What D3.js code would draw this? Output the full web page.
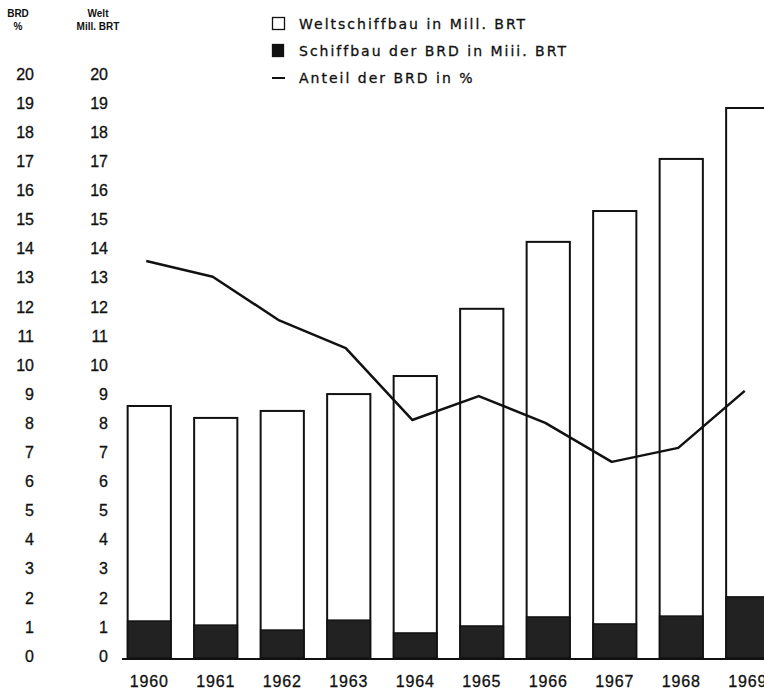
<!DOCTYPE html>
<html>
<head>
<meta charset="utf-8">
<script src="https://cdn.jsdelivr.net/npm/d3@7.9.0/dist/d3.min.js"></script>
<style>
  html, body { margin: 0; padding: 0; background: #fff; }
  svg { display: block; font-family: "Liberation Sans", Arial, sans-serif; }
</style>
</head>
<body>
<svg id="chart" width="764" height="690"></svg>
<script>
// Werte
const years = ["1960", "1961", "1962", "1963", "1964", "1965", "1966", "1967", "1968", "1969"];
const weltBRT = [8.66, 8.25, 8.49, 9.07, 9.69, 12.0, 14.3, 15.36, 17.15, 18.9];
const brdBRT = [1.27, 1.13, 0.96, 1.3, 0.86, 1.1, 1.41, 1.17, 1.44, 2.1];
const anteilBRD = [13.64, 13.1, 11.6, 10.65, 8.18, 9.0, 8.08, 6.74, 7.22, 9.18];
const tickValues = d3.range(0, 21);
const legendLabels = ["Weltschiffbau in Mill. BRT", "Schiffbau der BRD in Miii. BRT", "Anteil der BRD in %"];

const svg = d3.select("#chart");

const x = d3.scaleBand()
  .domain(years)
  .range([116, 781])
  .paddingInner(0.35)
  .paddingOuter(0.175);

const y = d3.scaleLinear().domain([0, 20]).range([658, 76]);

// 1. Achsenbeschriftung links (zwei Spalten)
const head = svg.append("g").attr("font-size", 10).attr("font-weight", "bold").attr("fill", "#111").attr("text-anchor", "middle");
head.append("text").attr("x", 18).attr("y", 17).text("BRD");
head.append("text").attr("x", 18).attr("y", 30).text("%");
head.append("text").attr("x", 98).attr("y", 17).text("Welt");
head.append("text").attr("x", 98).attr("y", 30).text("Mill. BRT");

[34, 108].forEach(xp => {
  svg.append("g")
    .attr("font-size", 16)
    .attr("fill", "#111")
    .attr("stroke", "#111")
    .attr("stroke-width", 0.3)
    .attr("text-anchor", "end")
    .selectAll("text")
    .data(tickValues)
    .join("text")
    .attr("x", xp)
    .attr("y", d => y(d) - 2)
    .attr("dy", "0.36em")
    .text(d => d);
});

// 2. Balken Weltschiffbau
svg.append("g")
  .selectAll("rect")
  .data(years)
  .join("rect")
  .attr("x", d => x(d))
  .attr("y", (d, i) => y(weltBRT[i]))
  .attr("width", x.bandwidth())
  .attr("height", (d, i) => y(0) - y(weltBRT[i]))
  .attr("fill", "#fff")
  .attr("stroke", "#111")
  .attr("stroke-width", 2);

// 3. Balken BRD
svg.append("g")
  .selectAll("rect")
  .data(years)
  .join("rect")
  .attr("x", d => x(d))
  .attr("y", (d, i) => y(brdBRT[i]))
  .attr("width", x.bandwidth())
  .attr("height", (d, i) => y(0) - y(brdBRT[i]))
  .attr("fill", "#222")
  .attr("stroke", "#111")
  .attr("stroke-width", 1.5);

// Grundlinie
svg.append("line")
  .attr("x1", 122).attr("x2", 764)
  .attr("y1", y(0) + 1).attr("y2", y(0) + 1)
  .attr("stroke", "#111").attr("stroke-width", 2);

// 4. Linie Anteil der BRD
const line = d3.line()
  .x((d, i) => x(years[i]) + x.bandwidth() / 2 - 3)
  .y(d => y(d));

svg.append("path")
  .datum(anteilBRD)
  .attr("d", line)
  .attr("fill", "none")
  .attr("stroke", "#111")
  .attr("stroke-width", 2.5)
  .attr("stroke-linejoin", "round");

// 5. Jahreszahlen
svg.append("g")
  .attr("font-size", 16)
  .attr("fill", "#111")
  .attr("stroke", "#111")
  .attr("stroke-width", 0.3)
  .attr("letter-spacing", 0.8)
  .attr("text-anchor", "middle")
  .selectAll("text")
  .data(years)
  .join("text")
  .attr("x", d => x(d) + x.bandwidth() / 2)
  .attr("y", 687)
  .text(d => d);

// 6. Legende
const legend = svg.append("g")
  .attr("font-family", "'DejaVu Sans', sans-serif")
  .attr("font-size", 14)
  .attr("fill", "#111")
  .attr("stroke", "#111")
  .attr("stroke-width", 0.3)
  .attr("letter-spacing", 2);
legendLabels.forEach((label, i) => {
  const ly = 24 + i * 27;
  if (i === 0) {
    legend.append("rect").attr("x", 272.5).attr("y", ly - 6.5).attr("width", 12).attr("height", 12)
      .attr("fill", "#fff").attr("stroke", "#111").attr("stroke-width", 1.3);
  } else if (i === 1) {
    legend.append("rect").attr("x", 272).attr("y", ly - 7).attr("width", 12).attr("height", 13).attr("fill", "#111");
  } else {
    legend.append("line").attr("x1", 272).attr("x2", 285).attr("y1", ly).attr("y2", ly)
      .attr("stroke", "#111").attr("stroke-width", 2);
  }
  legend.append("text").attr("x", 299).attr("y", ly).attr("dy", "0.36em").text(label);
});
</script>
</body>
</html>
